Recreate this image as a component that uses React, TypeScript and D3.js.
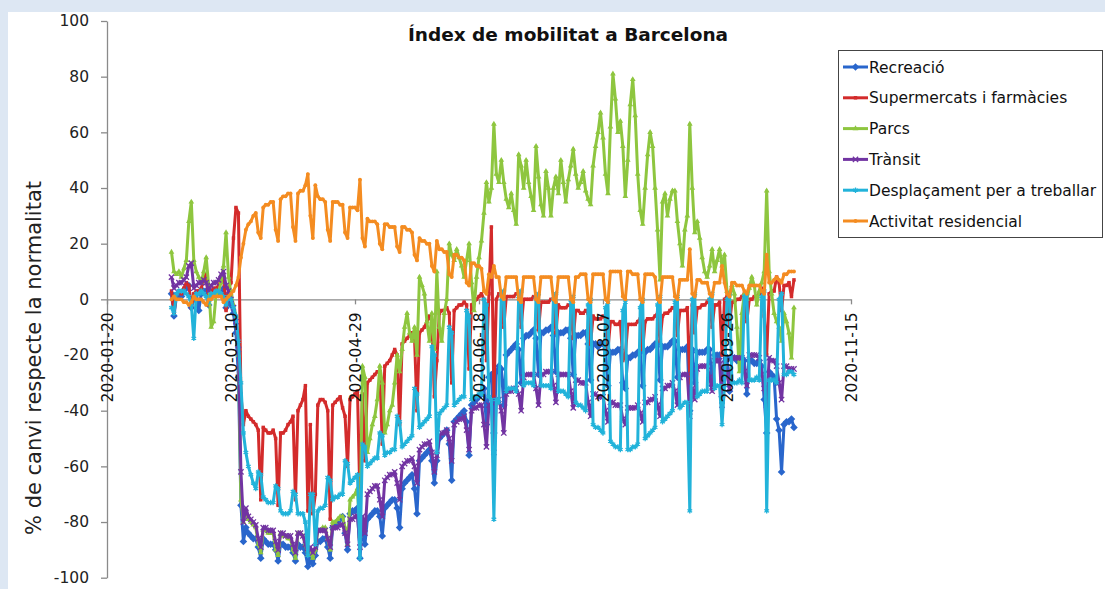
import React, { useEffect, useRef } from "react"
import * as d3 from "d3"

// one value per day, starting on this day
const startDay = "2020-02-15"

const seriesNames = [
	"Recreació",
	"Supermercats i farmàcies",
	"Parcs",
	"Trànsit",
	"Desplaçament per a treballar",
	"Activitat residencial",
]
const seriesColors = ["#2966cc", "#d32b2b", "#8ec63f", "#7234a2", "#22b3da", "#f48c21"]

const xTickLabels = ["2020-01-20", "2020-03-10", "2020-04-29", "2020-06-18", "2020-08-07", "2020-09-26", "2020-11-15"]
const yTickValues = [-100, -80, -60, -40, -20, 0, 20, 40, 60, 80, 100]

// % change vs baseline, one row per week (Sat..Fri)
const recreacio = [
	2, -6, 1, 2, 1, 3, 4,
	5, -3, 0, 2, -4, 2, 3,
	3, -2, 1, 2, 2, 3, 2,
	4, -3, 0, -2, -5, -12, -28,
	-74, -87, -82, -84, -85, -86, -86,
	-89, -93, -86, -87, -88, -88, -88,
	-90, -94, -88, -88, -89, -89, -89,
	-91, -94, -88, -89, -89, -91, -96,
	-93, -95, -92, -87, -87, -86, -86,
	-89, -93, -82, -81, -80, -79, -78,
	-84, -90, -77, -76, -76, -75, -93,
	-82, -88, -79, -78, -77, -76, -76,
	-78, -85, -75, -74, -73, -72, -72,
	-75, -82, -68, -66, -65, -64, -63,
	-68, -77, -58, -57, -56, -55, -54,
	-58, -66, -58, -50, -49, -48, -47,
	-52, -65, -44, -43, -42, -41, -40,
	-44, -56, -38, -37, -36, -35, -34,
	-32, -45, -28, -27, -48, -26, -24,
	-25, -38, -20, -19, -18, -17, -16,
	-18, -30, -14, -13, -13, -12, -11,
	-14, -27, -12, -12, -11, -11, -10,
	-13, -26, -12, -12, -12, -11, -11,
	-14, -27, -13, -13, -13, -12, -12,
	-16, -29, -16, -16, -17, -16, -16,
	-18, -31, -19, -19, -19, -18, -18,
	-30, -32, -21, -21, -20, -20, -19,
	-19, -31, -19, -18, -18, -17, -16,
	-16, -29, -17, -17, -17, -16, -15,
	-15, -28, -18, -18, -18, -17, -40,
	-18, -30, -19, -19, -19, -19, -18,
	-18, -31, -20, -20, -20, -35, -20,
	-21, -33, -21, -21, -22, -22, -21,
	-22, -34, -22, -22, -23, -23, -22,
	-24, -36, -48, -26, -27, -28, -43,
	-47, -62, -45, -44, -44, -43, -46,
]

const supermercats = [
	3, -5, 2, 3, 2, 4, 6,
	5, -3, 2, 3, 3, 4, 7,
	9, -2, 3, 4, 4, 5, 7,
	8, -4, 4, 6, 22, 33, 31,
	-34, -45, -40, -42, -43, -44, -45,
	-47, -72, -46, -47, -48, -48, -47,
	-50, -74, -48, -48, -47, -45, -44,
	-42, -72, -40, -38, -36, -31, -76,
	-45, -77, -70, -38, -36, -36, -37,
	-40, -79, -38, -37, -36, -35, -39,
	-42, -60, -36, -35, -34, -33, -72,
	-34, -58, -30, -29, -28, -27, -26,
	-26, -52, -24, -23, -22, -20, -18,
	-20, -45, -16, -15, -14, -13, -12,
	-14, -40, -12, -11, -10, -8, -6,
	-8, -35, -22, -5, -4, -4, -3,
	-5, -30, -4, -3, -2, -2, -1,
	-2, -25, -2, -1, 0, 1, 2,
	0, -22, 2, 26, -35, 0, 2,
	2, -10, 1, 1, 1, 1, 2,
	2, -10, 0, 0, 0, 0, 1,
	1, -11, -1, -1, -1, -1, 0,
	0, -12, -2, -3, -3, -3, -2,
	-2, -14, -4, -4, -5, -5, -4,
	-5, -16, -6, -7, -7, -7, -6,
	-7, -18, -8, -8, -9, -9, -8,
	-22, -20, -9, -9, -9, -9, -8,
	-7, -18, -8, -7, -7, -7, -6,
	-5, -15, -6, -5, -5, -4, -3,
	-3, -13, -4, -4, -4, -3, -30,
	-2, -12, -3, -3, -2, -2, -1,
	0, -10, -2, -2, -1, -20, 0,
	1, -9, -1, -1, 0, 0, 1,
	2, -8, 0, 0, 1, 1, 2,
	4, -6, -20, 2, 3, 3, 8,
	6, -4, 5, 5, 6, 1, 7,
]

const parcs = [
	17, 10, 9, 10, 8, 11, 14,
	28, 35, 14, 10, 8, 6, 10,
	15, 5, -10, -8, 2, 3, 6,
	12, 24, 8, 2, -2, -6, -20,
	-72, -80, -76, -79, -80, -81, -82,
	-88, -91, -83, -83, -84, -84, -84,
	-90, -92, -84, -85, -85, -86, -86,
	-90, -93, -84, -84, -85, -88, -92,
	-91, -93, -90, -83, -83, -82, -82,
	-86, -90, -80, -80, -79, -78, -78,
	-82, -88, -72, -71, -70, -68, -85,
	-24, -28, -55, -50, -45, -42, -36,
	-24, -30, -48, -45, -40, -38, -30,
	-20, -26, -18, -10, -5, -12, -15,
	-10, -20, 8, 5, 2, -8, -15,
	-5, -18, 10, -10, -15, -5, 0,
	20, 16, 14, 18, 15, 12, 8,
	14, 20, 6, -4, 8, 15, 21,
	31, 42, 35, 40, 63, 45, 42,
	50, 42, 36, 33, 38, 32, 27,
	52, 48, 40, 50, 42, 37, 32,
	55, 44, 34, 30, 46, 40, 30,
	40, 44, 38, 50, 42, 35, 43,
	48, 54, 45, 40, 42, 46, 39,
	36, 34, 48, 55, 60, 67, 58,
	45, 38, 62, 81, 72, 60, 64,
	55, 37, 50, 70, 79, 66, 45,
	32, 27, 40, 52, 60, 55, 40,
	25, 7, 35, 38, 30, 36, 39,
	39, 28, 20, 12, 25, 30, 63,
	40, 24, 28, 22, 15, 10, 8,
	12, 18, 10, 14, 18, 12, 16,
	3, 0, 5, 2, -10, -26, -5,
	2, 0, 4, 8, 5, -2, 3,
	6, 10, 39, 10, 2, -5, -8,
	-10, -15, -5, -8, -12, -21, -3,
]

const transit = [
	8, 4, 5, 6, 6, 7, 8,
	12, 13, 4, 5, 6, 6, 7,
	6, 3, 5, 6, 6, 7, 9,
	10, 5, 3, 0, -3, -8, -18,
	-62, -80, -75, -78, -79, -80, -81,
	-86, -89, -82, -82, -83, -83, -83,
	-87, -90, -84, -84, -85, -85, -85,
	-88, -91, -84, -84, -85, -88, -91,
	-89, -91, -89, -83, -83, -83, -83,
	-86, -89, -82, -82, -82, -81, -81,
	-84, -88, -79, -79, -78, -78, -89,
	-78, -84, -70, -69, -68, -67, -67,
	-72, -78, -65, -64, -63, -63, -62,
	-66, -72, -60, -59, -58, -58, -57,
	-60, -66, -54, -53, -52, -52, -51,
	-55, -62, -56, -49, -48, -48, -47,
	-50, -58, -45, -44, -43, -43, -42,
	-47, -54, -40, -39, -39, -38, -38,
	-45, -53, -38, -37, -55, -36, -36,
	-40, -48, -34, -33, -33, -32, -32,
	-34, -40, -28, -27, -27, -27, -27,
	-32, -38, -27, -27, -26, -26, -26,
	-31, -37, -27, -27, -27, -27, -27,
	-33, -39, -29, -29, -30, -30, -30,
	-37, -42, -34, -34, -35, -35, -35,
	-40, -44, -37, -37, -38, -38, -38,
	-43, -45, -39, -39, -39, -39, -38,
	-41, -44, -37, -37, -36, -36, -35,
	-38, -42, -32, -32, -31, -31, -30,
	-33, -38, -28, -27, -27, -27, -42,
	-32, -36, -25, -24, -24, -24, -24,
	-28, -33, -22, -22, -22, -38, -23,
	-27, -32, -21, -21, -21, -21, -21,
	-26, -31, -20, -20, -20, -20, -21,
	-27, -32, -38, -21, -22, -22, -24,
	-30, -36, -24, -24, -25, -25, -25,
]

const desplacament = [
	-3, -5, 2, 3, 3, 3, 2,
	1, -2, -14, 2, 2, 3, 2,
	1, -1, 2, 2, 3, 3, 2,
	1, -2, 1, 0, -3, -6, -15,
	-30, -48, -55, -60, -63, -66, -68,
	-62, -63, -71, -72, -73, -73, -73,
	-67, -68, -76, -77, -77, -77, -76,
	-69, -70, -77, -77, -77, -80, -92,
	-70, -70, -88, -76, -75, -75, -74,
	-64, -65, -72, -71, -71, -70, -70,
	-58, -59, -66, -65, -64, -63, -93,
	-52, -53, -60, -59, -58, -57, -57,
	-48, -49, -56, -55, -55, -54, -54,
	-42, -44, -53, -52, -51, -50, -49,
	-32, -34, -46, -45, -44, -43, -42,
	-17, -20, -55, -41, -40, -39, -38,
	-10, -12, -38, -37, -36, -35, -35,
	-4, -6, -36, -35, -35, -34, -34,
	0, -2, -35, -36, -79, -36, -37,
	2, 3, -33, -32, -32, -32, -33,
	1, 3, -31, -30, -30, -30, -31,
	1, 2, -31, -31, -31, -31, -32,
	0, 2, -33, -33, -33, -34, -35,
	-1, 1, -37, -38, -38, -39, -40,
	-2, 0, -45, -46, -46, -47, -48,
	-3, -1, -51, -52, -53, -53, -54,
	-4, -1, -54, -54, -53, -53, -52,
	-3, 0, -50, -49, -48, -47, -46,
	-2, 1, -44, -43, -42, -41, -40,
	-1, 1, -39, -38, -37, -37, -76,
	0, 2, -35, -34, -33, -33, -33,
	0, 2, -32, -31, -31, -45, -31,
	0, 2, -30, -30, -30, -29, -30,
	1, 2, -29, -29, -29, -28, -29,
	1, 3, -76, -29, -29, -29, -30,
	0, 2, -27, -27, -26, -26, -27,
]

const residencial = [
	0, 1, 0, 0, 0, -1, -1,
	-2, -1, 1, 0, 0, 0, -1,
	-2, 0, 0, 1, 1, 1, 1,
	-1, 0, 1, 2, 3, 5, 8,
	15, 20, 25, 27, 28, 30, 31,
	24, 22, 33, 34, 34, 35, 35,
	25, 21, 36, 37, 37, 38, 38,
	26, 21, 38, 39, 39, 41, 45,
	30, 22, 41, 37, 36, 36, 35,
	25, 21, 35, 35, 35, 34, 34,
	24, 22, 33, 33, 33, 32, 43,
	22, 19, 29, 28, 28, 28, 27,
	20, 18, 27, 27, 26, 26, 26,
	19, 17, 26, 26, 25, 25, 24,
	16, 14, 22, 21, 21, 20, 20,
	12, 10, 21, 18, 18, 17, 17,
	9, 8, 16, 16, 15, 15, 14,
	6, 5, 13, 13, 12, 12, 11,
	3, 2, 9, 8, 12, 8, 8,
	1, 0, 8, 8, 8, 8, 8,
	0, -1, 8, 8, 8, 8, 8,
	0, -1, 8, 8, 8, 8, 8,
	0, -1, 8, 8, 8, 8, 8,
	0, -1, 8, 8, 9, 9, 9,
	0, -1, 9, 9, 9, 9, 9,
	0, -1, 10, 10, 10, 10, 10,
	1, 0, 10, 10, 9, 9, 9,
	0, -1, 9, 9, 9, 9, 8,
	0, -1, 8, 8, 8, 8, 8,
	1, 0, 7, 7, 7, 7, 18,
	2, 1, 7, 7, 6, 6, 6,
	2, 1, 6, 6, 6, 12, 6,
	2, 1, 6, 6, 5, 5, 5,
	3, 2, 5, 5, 5, 5, 5,
	3, 2, 16, 6, 6, 7, 8,
	7, 6, 9, 9, 10, 10, 10,
]

const allSeries = [recreacio, supermercats, parcs, transit, desplacament, residencial]

const FONT = "'DejaVu Sans', 'Liberation Sans', sans-serif"
const AXIS_COLOR = "#8a8a8a"
const LINE_WIDTH = 3

// Excel-like markers, one per series
const markerPath = (i: number): string => {
	switch (i) {
		case 0:
			return "M0,-3.8L3.8,0L0,3.8L-3.8,0Z"
		case 1:
			return d3.symbol(d3.symbolSquare, 12)() as string
		case 2:
			return d3.symbol(d3.symbolTriangle, 14)() as string
		case 3:
			return d3.symbol(d3.symbolTimes, 20)() as string
		case 4:
			return d3.symbol(d3.symbolAsterisk, 20)() as string
		default:
			return d3.symbol(d3.symbolCircle, 12)() as string
	}
}
const strokedMarker = (i: number) => i === 3 || i === 4

const MobilityChart = () => {
	const ref = useRef<SVGSVGElement>(null)

	useEffect(() => {
		const width = 1105
		const height = 589

		const svg = d3.select(ref.current).attr("width", width).attr("height", height)
		svg.selectAll("*").remove()

		// frame
		svg.append("rect").attr("width", width).attr("height", height).attr("fill", "#dde7f3")
		svg.append("rect").attr("x", 8).attr("y", 12).attr("width", width - 8).attr("height", height - 12).attr("fill", "#fff")

		const parse = d3.utcParse("%Y-%m-%d")
		const first = parse(startDay) as Date
		const days = recreacio.map((_, i) => d3.utcDay.offset(first, i))
		const tickDates = xTickLabels.map(s => parse(s) as Date)

		const x = d3
			.scaleUtc()
			.domain([tickDates[0], tickDates[tickDates.length - 1]])
			.range([107, 851])

		const y = d3.scaleLinear().domain([-100, 100]).range([577.7, 21])

		// title
		svg
			.append("text")
			.attr("x", 568)
			.attr("y", 41)
			.attr("text-anchor", "middle")
			.style("font-family", FONT)
			.style("font-size", "18.5px")
			.style("font-weight", "bold")
			.attr("fill", "#111")
			.text("Índex de mobilitat a Barcelona")

		// y axis
		const yAxis = svg
			.append("g")
			.attr("transform", "translate(107,0)")
			.call(
				d3
					.axisLeft(y)
					.tickValues(yTickValues)
					.tickFormat(d => String(d))
					.tickSize(6)
					.tickSizeOuter(0)
					.tickPadding(12),
			)
			.attr("font-family", FONT)
			.attr("font-size", 15.5)
		yAxis.select(".domain").attr("stroke", AXIS_COLOR).attr("stroke-width", 1.3)
		yAxis.selectAll(".tick line").attr("stroke", AXIS_COLOR).attr("stroke-width", 1.3)
		yAxis.selectAll(".tick text").attr("fill", "#222")

		svg
			.append("text")
			.attr("transform", "translate(41,358) rotate(-90)")
			.attr("text-anchor", "middle")
			.style("font-family", FONT)
			.style("font-size", "21px")
			.attr("fill", "#222")
			.text("% de canvi respecte la normalitat")

		// x axis line at zero (labels are drawn later, above the lines)
		const xAxis = svg
			.append("g")
			.attr("transform", `translate(0,${y(0)})`)
			.call(d3.axisBottom(x).tickValues(tickDates).tickSize(5).tickSizeOuter(0).tickFormat(() => ""))
		xAxis.select(".domain").attr("stroke", AXIS_COLOR).attr("stroke-width", 1.3)
		xAxis.selectAll(".tick line").attr("stroke", AXIS_COLOR).attr("stroke-width", 1.3)

		// series
		const line = d3
			.line<number>()
			.x((_, i) => x(days[i]))
			.y(v => y(v))

		allSeries.forEach((values, s) => {
			const g = svg.append("g")
			g.append("path")
				.datum(values)
				.attr("fill", "none")
				.attr("stroke", seriesColors[s])
				.attr("stroke-width", LINE_WIDTH)
				.attr("stroke-linejoin", "round")
				.attr("d", line)

			const marker = markerPath(s)
			g.selectAll("path.marker")
				.data(values)
				.enter()
				.append("path")
				.attr("class", "marker")
				.attr("transform", (v, i) => `translate(${x(days[i])},${y(v)})`)
				.attr("d", marker)
				.attr("fill", strokedMarker(s) ? "none" : seriesColors[s])
				.attr("stroke", strokedMarker(s) ? seriesColors[s] : "none")
				.attr("stroke-width", 1.3)
		})

		// x tick labels, rotated
		svg
			.append("g")
			.selectAll("text")
			.data(tickDates)
			.enter()
			.append("text")
			.attr("transform", d => `translate(${x(d)},${y(0) + 13}) rotate(-90)`)
			.attr("dy", "0.36em")
			.attr("text-anchor", "end")
			.style("font-family", FONT)
			.style("font-size", "15.5px")
			.attr("fill", "#111")
			.text((_, i) => xTickLabels[i])

		// legend
		const legend = svg.append("g")
		legend
			.append("rect")
			.attr("x", 838.5)
			.attr("y", 50.5)
			.attr("width", 264)
			.attr("height", 187)
			.attr("fill", "#fff")
			.attr("stroke", "#444")
			.attr("stroke-width", 1)

		seriesNames.forEach((name, s) => {
			const ly = 67 + s * 30.8
			legend
				.append("line")
				.attr("x1", 843)
				.attr("x2", 868)
				.attr("y1", ly)
				.attr("y2", ly)
				.attr("stroke", seriesColors[s])
				.attr("stroke-width", LINE_WIDTH)
			legend
				.append("path")
				.attr("transform", `translate(855.5,${ly})`)
				.attr("d", markerPath(s))
				.attr("fill", strokedMarker(s) ? "none" : seriesColors[s])
				.attr("stroke", strokedMarker(s) ? seriesColors[s] : "none")
				.attr("stroke-width", 1.3)
			legend
				.append("text")
				.attr("x", 869)
				.attr("y", ly)
				.attr("dy", "0.36em")
				.style("font-family", FONT)
				.style("font-size", "15.5px")
				.attr("fill", "#111")
				.text(name)
		})
	}, [])

	return <svg ref={ref} style={{ position: "fixed", left: 0, top: 0, display: "block" }}></svg>
}

export default function App() {
	return <MobilityChart />
}
